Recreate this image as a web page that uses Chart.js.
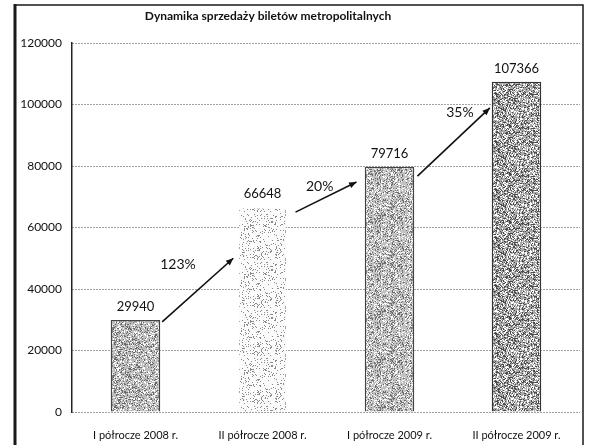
<!DOCTYPE html>
<html>
<head>
<meta charset="utf-8">
<script src="https://cdn.jsdelivr.net/npm/chart.js@4"></script>
<style>
    html, body { margin: 0; padding: 0; background: #fff; }
    #box { width: 590px; height: 445px; }
</style>
</head>
<body>
<div id="box"><canvas id="chart" width="590" height="445"></canvas></div>
<script>
// dane wykresu
const categories = ['I półrocze 2008 r.', 'II półrocze 2008 r.', 'I półrocze 2009 r.', 'II półrocze 2009 r.'];
const sales = [29940, 66648, 79716, 107366];
const yTicks = [0, 20000, 40000, 60000, 80000, 100000, 120000];
const growthLabels = ['123%', '20%', '35%'];
const chartTitle = 'Dynamika sprzedaży biletów metropolitalnych';

// strzałki (w jednostkach danych: indeks kategorii + wartość)
const arrows = [
    { x0: 0.21, y0: 29300, x1: 0.77, y1: 50000, lx: 0.335, ly: 48000 },
    { x0: 1.26, y0: 65000, x1: 1.74, y1: 74800, lx: 1.45, ly: 73500 },
    { x0: 2.22, y0: 76700, x1: 2.79, y1: 98900, lx: 2.555, ly: 97500 }
];

const FONT = 'Lato, "DejaVu Sans", sans-serif';

/**
 * ziarnisty wzór wypełnienia (jak na skanie)
 */
function speckle(base, dark, density, seed) {
    const c = document.createElement('canvas');
    c.width = 48; c.height = 48;
    const g = c.getContext('2d');
    g.fillStyle = base;
    g.fillRect(0, 0, 48, 48);
    let s = seed;
    const rnd = () => { s = (s * 1103515245 + 12345) % 2147483648; return s / 2147483648; };
    for (let y = 0; y < 48; y++) {
        for (let x = 0; x < 48; x++) {
            const r = rnd();
            if (r < density) {
                g.fillStyle = dark;
                g.fillRect(x, y, 1, 1);
            } else if (r > 1 - density) {
                g.fillStyle = '#ffffff';
                g.fillRect(x, y, 1, 1);
            }
        }
    }
    return g.createPattern(c, 'repeat');
}

const ctx = document.getElementById('chart').getContext('2d');
const fills = [
    speckle('#bdbdbd', '#6a6a6a', 0.22, 7),
    speckle('#fafafa', '#8a8a8a', 0.13, 11),
    speckle('#c2c2c2', '#6e6e6e', 0.22, 23),
    speckle('#a8a8a8', '#4a4a4a', 0.26, 41)
];

// ramka, tytuł, etykiety wartości i strzałki
const overlay = {
    id: 'overlay',
    beforeDraw(chart) {
        const c = chart.ctx;
        c.save();
        c.fillStyle = '#ffffff';
        c.fillRect(0, 0, chart.width, chart.height);
        c.strokeStyle = '#1a1a1a';
        c.lineWidth = 1.5;
        c.strokeRect(15, 5, 568, 460);
        c.lineWidth = 3;
        c.beginPath();
        c.moveTo(15, 4);
        c.lineTo(15, 445);
        c.stroke();
        c.restore();
    },
    afterDraw(chart) {
        const c = chart.ctx;
        const xs = chart.scales.x;
        const ys = chart.scales.y;
        const band = xs.getPixelForValue(1) - xs.getPixelForValue(0);
        const px = v => xs.getPixelForValue(Math.floor(v)) + (v - Math.floor(v)) * band;
        c.save();
        c.fillStyle = '#111';
        c.textAlign = 'center';
        c.textBaseline = 'middle';

        c.font = 'bold 12px ' + FONT;
        c.fillText(chartTitle, 268, 16);

        // wartości nad słupkami
        c.font = '13px ' + FONT;
        chart.getDatasetMeta(0).data.forEach((bar, i) => {
            c.fillText(String(sales[i]), bar.x, bar.y - 13);
        });

        // strzałki wzrostu
        c.strokeStyle = '#111';
        c.lineWidth = 1.6;
        arrows.forEach((a, i) => {
            const x0 = px(a.x0), y0 = ys.getPixelForValue(a.y0);
            const x1 = px(a.x1), y1 = ys.getPixelForValue(a.y1);
            c.beginPath();
            c.moveTo(x0, y0);
            c.lineTo(x1, y1);
            c.stroke();
            const ang = Math.atan2(y1 - y0, x1 - x0);
            c.beginPath();
            c.moveTo(x1, y1);
            c.lineTo(x1 - 8 * Math.cos(ang - 0.4), y1 - 8 * Math.sin(ang - 0.4));
            c.lineTo(x1 - 8 * Math.cos(ang + 0.4), y1 - 8 * Math.sin(ang + 0.4));
            c.closePath();
            c.fill();
            c.font = '14px ' + FONT;
            c.fillText(growthLabels[i], px(a.lx), ys.getPixelForValue(a.ly));
        });
        c.restore();
    }
};

new Chart(ctx, {
    type: 'bar',
    data: {
        labels: categories,
        datasets: [{
            data: sales,
            backgroundColor: fills,
            borderColor: ['#444', 'rgba(0,0,0,0)', '#444', '#333'],
            borderWidth: 1.5,
            categoryPercentage: 1,
            barPercentage: 0.39
        }]
    },
    options: {
        responsive: false,
        animation: false,
        layout: { padding: { left: 0, top: 43, right: 10, bottom: 0 } },
        plugins: {
            legend: { display: false },
            title: { display: false },
            tooltip: { enabled: false }
        },
        scales: {
            x: {
                grid: { display: false },
                border: { display: false },
                ticks: { color: '#111', font: { family: FONT, size: 11 }, padding: 9, maxRotation: 0 },
                afterFit: s => { s.height = 33; }
            },
            y: {
                min: 0,
                max: 120000,
                afterBuildTicks: s => { s.ticks = yTicks.map(v => ({ value: v })); },
                grid: { color: '#444', lineWidth: 1, drawTicks: false },
                border: { display: true, color: '#222', width: 1.5, dash: [1, 2] },
                ticks: {
                    color: '#111',
                    font: { family: FONT, size: 12 },
                    padding: 10,
                    callback: v => String(v)
                },
                afterFit: s => { s.width = 72; }
            }
        }
    },
    plugins: [overlay]
});
</script>
</body>
</html>
